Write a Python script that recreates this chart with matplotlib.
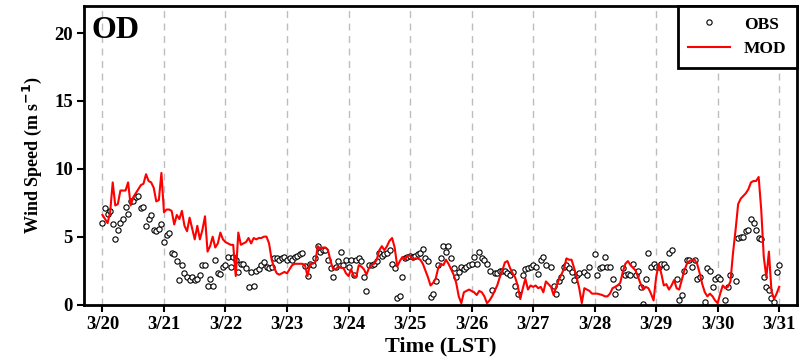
import numpy as np
import matplotlib
matplotlib.use("Agg")
import matplotlib.pyplot as plt

# hourly wind speed, each list = one day starting at 00 LST (m/s)
obs_20 = [6.0, 7.1, 6.7, 6.9, 5.9, 4.8, 5.5, 6.0, 6.3, 7.2, 6.7, 7.6, 7.6, 7.9, 8.0, 7.1, 7.2, 5.8, 6.3, 6.6, 5.5, 5.4, 5.6, 5.9]
obs_21 = [4.6, 5.1, 5.3, 3.8, 3.7, 3.2, 1.8, 2.9, 2.3, 2.0, 1.8, 2.0, 1.8, 1.9, 2.2, 2.9, 2.9, 1.4, 1.9, 1.4, 3.3, 2.3, 2.25, 2.8]
obs_22 = [2.9, 3.5, 2.8, 3.5, 3.3, 2.4, 3.0, 3.0, 2.7, 1.3, 2.4, 1.4, 2.5, 2.6, 2.9, 3.1, 2.8, 2.7, 2.8, 3.4, 3.4, 3.3, 3.4, 3.5]
obs_23 = [3.3, 3.4, 3.3, 3.5, 3.6, 3.7, 3.8, 2.85, 2.1, 3.0, 2.9, 3.4, 4.3, 3.9, 4.0, 4.0, 3.3, 2.7, 2.05, 2.8, 3.2, 3.9, 2.9, 3.3]
obs_24 = [2.8, 3.3, 2.2, 3.3, 3.4, 3.2, 2.05, 1.0, 2.9, 2.9, 3.0, 3.2, 3.8, 3.6, 3.7, 3.8, 4.0, 3.0, 2.7, 0.45, 0.64, 2.0, 3.4, 3.5]
obs_25 = [3.6, 3.5, 3.6, 3.7, 3.8, 4.1, 3.4, 3.2, 0.57, 0.8, 1.7, 2.9, 3.4, 4.3, 3.9, 4.3, 3.4, 2.7, 2.05, 2.4, 2.8, 2.6, 2.8, 2.9]
obs_26 = [3.0, 3.5, 3.0, 3.9, 3.4, 3.3, 3.0, 2.5, 1.06, 2.3, 2.3, 2.5, 2.5, 2.5, 2.3, 2.2, 2.4, 1.4, 0.8, np.nan, 2.2, 2.6, 2.7, 2.8]
obs_27 = [2.9, 2.8, 2.25, 3.3, 3.5, 2.9, np.nan, 2.8, 1.4, 0.8, 1.7, 2.05, 2.8, 2.9, 2.7, 2.4, 1.8, 2.2, 2.3, np.nan, 2.4, 2.2, 2.8, np.nan]
obs_28 = [3.7, 2.2, 2.7, 2.8, 3.5, 2.8, 2.8, 1.9, 0.8, 1.3, np.nan, 2.7, 2.2, 2.25, 2.2, 3.0, 2.2, 2.5, 1.3, 0.07, 1.9, 3.8, 2.8, 3.0]
obs_29 = [2.8, 2.8, 3.0, 3.0, 2.8, 3.8, 4.0, np.nan, 1.9, 0.3, 0.7, 2.5, 3.3, 3.3, 2.8, 3.3, 1.9, 2.05, np.nan, 0.2, 2.7, 2.5, 1.3, 1.9]
obs_30 = [2.05, 1.9, np.nan, 0.3, 1.3, 2.2, np.nan, 1.7, 4.9, 5.0, 5.0, 5.4, 5.5, 6.3, 6.0, 5.5, 4.9, 4.8, 2.05, 1.3, 1.06, 0.45, 0.2, 2.4]
obs_31 = [2.9]

mod_20 = [6.6, 6.3, 6.0, 6.8, 9.0, 7.3, 7.4, 8.4, 8.4, 8.4, 9.0, 7.3, 7.9, 8.2, 8.5, 8.8, 8.9, 9.6, 9.1, 9.0, 8.6, 7.6, 7.7, 9.7]
mod_21 = [6.8, 7.0, 7.0, 6.9, 5.9, 6.6, 6.3, 6.9, 5.8, 5.4, 6.4, 5.6, 4.8, 5.8, 4.8, 5.5, 6.5, 3.9, 4.3, 5.0, 4.2, 4.5, 5.3, 4.8]
mod_22 = [4.6, 4.5, 4.4, 4.4, 2.1, 5.3, 4.4, 4.5, 4.6, 4.9, 4.5, 4.9, 4.8, 4.9, 4.9, 5.0, 5.0, 4.5, 3.3, 2.7, 2.3, 2.2, 2.3, 2.4]
mod_23 = [2.3, 2.6, 2.9, 3.0, 3.0, 3.0, 3.0, 2.9, 2.1, 3.0, 3.0, 3.1, 4.3, 4.1, 4.2, 4.2, 4.0, 3.2, 2.6, 2.6, 2.8, 2.7, 2.7, 2.3]
mod_24 = [2.1, 2.6, 2.1, 2.0, 2.9, 2.8, 2.6, 2.2, 2.7, 2.9, 3.0, 3.3, 4.0, 4.3, 4.0, 4.3, 4.7, 4.9, 4.2, 2.8, 3.2, 3.5, 3.3, 3.6]
mod_25 = [3.6, 3.3, 3.4, 3.4, 3.3, 3.0, 2.5, 2.0, 1.4, 1.6, 1.9, 2.7, 3.0, 2.9, 3.3, 3.0, 2.6, 2.2, 1.6, 0.6, 0.1, 0.9, 1.0, 1.1]
mod_26 = [1.0, 0.9, 0.7, 1.0, 0.9, 0.6, 0.1, 0.3, 0.6, 1.0, 1.4, 2.0, 2.5, 3.1, 3.2, 2.7, 2.3, 2.0, 1.4, 0.4, 1.2, 1.9, 1.1, 1.4]
mod_27 = [1.3, 1.4, 1.2, 1.3, 0.9, 1.7, 1.5, 1.3, 0.7, 1.3, 1.8, 2.2, 2.6, 3.4, 3.3, 3.3, 2.7, 2.0, 1.2, 0.1, 1.2, 1.1, 1.0, 0.8]
mod_28 = [0.8, 0.8, 0.75, 0.7, 0.6, 0.6, 0.8, 1.2, 1.3, 1.4, 1.6, 2.4, 3.0, 3.2, 2.9, 2.7, 2.5, 2.0, 1.5, 1.1, 1.3, 1.2, 0.8, 0.3]
mod_29 = [2.0, 3.0, 2.3, 1.4, 1.5, 1.1, 1.4, 1.8, 1.2, 1.1, 1.8, 2.5, 3.0, 3.2, 3.3, 3.3, 3.0, 2.3, 1.5, 0.9, 0.6, 0.8, 0.6, 0.3]
mod_30 = [0.1, 0.8, 1.4, 1.2, 1.3, 1.7, 3.8, 5.5, 7.4, 7.8, 8.0, 8.2, 8.5, 9.0, 9.1, 9.1, 9.4, 7.0, 3.5, 2.0, 3.9, 1.0, 0.4, 0.8]
mod_31 = [1.3]

day_labels = ["3/20", "3/21", "3/22", "3/23", "3/24", "3/25", "3/26", "3/27", "3/28", "3/29", "3/30", "3/31"]

obs = np.array(obs_20 + obs_21 + obs_22 + obs_23 + obs_24 + obs_25 + obs_26 + obs_27 + obs_28 + obs_29 + obs_30 + obs_31)
mod = np.array(mod_20 + mod_21 + mod_22 + mod_23 + mod_24 + mod_25 + mod_26 + mod_27 + mod_28 + mod_29 + mod_30 + mod_31)
t_obs = np.arange(len(obs)) / 24.0
t_mod = np.arange(len(mod)) / 24.0

plt.rcParams['font.family'] = ['Liberation Serif', 'DejaVu Serif']
plt.rcParams['font.weight'] = 'bold'

fig = plt.figure(figsize=(8.02, 3.64), dpi=100)
ax = fig.add_axes([84 / 802, 59.5 / 364, 713 / 802, 298.5 / 364])

# dashed line at every day
for d in range(len(day_labels)):
    ax.axvline(d, color='#bdbdbd', lw=1.0, ls=(0, (5, 4)), zorder=0)

ax.plot(t_obs, obs, ls='none', marker='o', ms=3.8, mfc='white', mec='black', mew=0.8, label='OBS', zorder=2)
ax.plot(t_mod, mod, color='red', lw=1.5, label='MOD', zorder=3)

ax.set_xlim(-0.3, 11.29)
ax.set_ylim(0, 22)
ax.set_xticks(np.arange(len(day_labels)))
ax.set_xticklabels(day_labels)
ax.set_yticks([0, 5, 10, 15, 20])
ax.tick_params(direction='out', length=5, width=1.5, labelsize=13.5, pad=3)
for s in ax.spines.values():
    s.set_linewidth(2)

ax.set_xlabel('Time (LST)', fontsize=16, fontweight='bold', labelpad=3)
ax.set_ylabel('Wind Speed (m s$^{\\mathbf{-1}}$)', fontsize=13, fontweight='bold', labelpad=7)
ax.text(0.01, 0.965, 'OD', transform=ax.transAxes, fontsize=23, fontweight='bold', va='top', ha='left')

leg = ax.legend(loc='upper right', borderaxespad=0, fancybox=False, numpoints=1,
                handlelength=2.4, handletextpad=0.8, borderpad=0.6, labelspacing=0.5,
                prop={'size': 12.5, 'weight': 'bold'})
leg.get_frame().set_edgecolor('black')
leg.get_frame().set_linewidth(2)
leg.get_frame().set_alpha(1)

fig.savefig('out.png', dpi=100)
